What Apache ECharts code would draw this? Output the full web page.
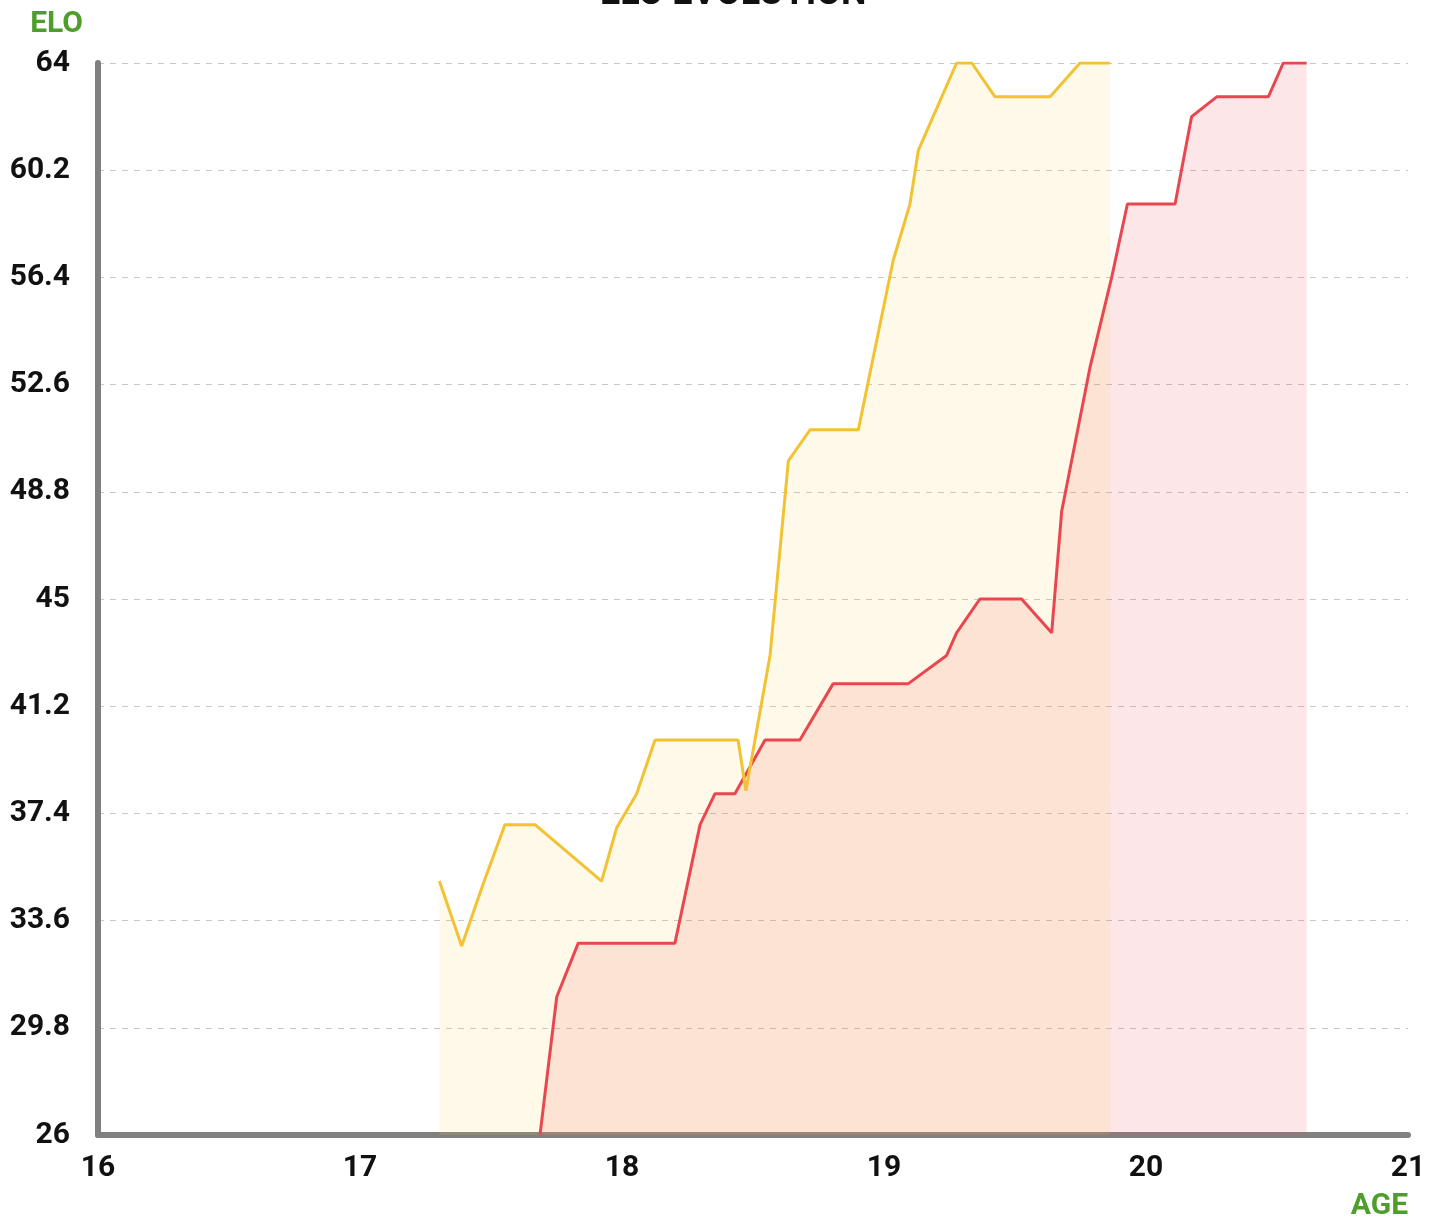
<!DOCTYPE html>
<html>
<head>
<meta charset="utf-8">
<script src="https://cdn.jsdelivr.net/npm/echarts@6/dist/echarts.min.js"></script>
<style>
html, body { margin: 0; padding: 0; background: #fff; }
#chart { width: 1443px; height: 1224px; }
</style>
</head>
<body>
<div id="chart"></div>
<script>
// age (x) / elo (y)
const yellowAge = [17.303, 17.388, 17.47, 17.553, 17.668, 17.922, 17.98, 18.056, 18.126, 18.443, 18.473, 18.565, 18.635, 18.718, 18.902, 19.035, 19.099, 19.131, 19.277, 19.335, 19.424, 19.634, 19.748, 19.863];
const yellowElo = [35.0, 32.7, 34.9, 37.0, 37.0, 35.0, 36.9, 38.1, 40.0, 40.0, 38.2, 43.0, 49.9, 51.0, 51.0, 57.0, 59.0, 60.9, 64.0, 64.0, 62.8, 62.8, 64.0, 64.0];

const redAge = [17.687, 17.751, 17.833, 18.202, 18.298, 18.355, 18.431, 18.546, 18.679, 18.806, 19.093, 19.239, 19.277, 19.366, 19.525, 19.64, 19.678, 19.786, 19.869, 19.929, 20.111, 20.174, 20.27, 20.467, 20.524, 20.613];
const redElo = [26.0, 30.9, 32.8, 32.8, 37.0, 38.1, 38.1, 40.0, 40.0, 42.0, 42.0, 43.0, 43.8, 45.0, 45.0, 43.8, 48.1, 53.2, 56.4, 59.0, 59.0, 62.1, 62.8, 62.8, 64.0, 64.0];

const xTicks = { min: 16, max: 21, step: 1 };
const yTicks = { min: 26, max: 64, step: 3.8 };

const toPairs = (xs, ys) => xs.map((x, i) => [x, ys[i]]);

const chart = echarts.init(document.getElementById('chart'));
const labelFont = { color: '#111', fontFamily: 'Roboto', fontWeight: 'bold', fontSize: 30 };

chart.setOption({
  backgroundColor: '#fff',
  animation: false,
  title: {
    text: 'ELO EVOLUTION',
    left: 595,
    top: -28,
    textStyle: { color: '#111', fontFamily: 'Roboto', fontWeight: 'bold', fontSize: 36 }
  },
  grid: { left: 98, right: 35, top: 63, bottom: 89, containLabel: false },
  xAxis: {
    type: 'value',
    min: xTicks.min,
    max: xTicks.max,
    interval: xTicks.step,
    name: 'AGE',
    nameLocation: 'end',
    nameGap: 0,
    nameTextStyle: {
      color: '#4f9e2c', fontFamily: 'Roboto', fontWeight: 'bold', fontSize: 30,
      align: 'right', verticalAlign: 'top', padding: [56, 0, 0, 0]
    },
    axisLine: { lineStyle: { color: '#808080', width: 6 } },
    axisTick: { show: false },
    splitLine: { show: false },
    axisLabel: Object.assign({ margin: 18 }, labelFont)
  },
  yAxis: {
    type: 'value',
    min: yTicks.min,
    max: yTicks.max,
    interval: yTicks.step,
    name: 'ELO',
    nameLocation: 'end',
    nameGap: 24,
    nameTextStyle: {
      color: '#4f9e2c', fontFamily: 'Roboto', fontWeight: 'bold', fontSize: 30,
      align: 'right', padding: [0, 15, 0, 0]
    },
    axisLine: { show: true, lineStyle: { color: '#808080', width: 6 } },
    axisTick: { show: false },
    splitLine: { lineStyle: { color: '#c8c8c8', type: [6, 6], width: 1 } },
    axisLabel: Object.assign({
      margin: 28,
      formatter: v => String(+v.toFixed(1))
    }, labelFont)
  },
  series: [
    {
      name: 'red',
      type: 'line',
      data: toPairs(redAge, redElo),
      showSymbol: false,
      lineStyle: { color: '#e8474f', width: 3 },
      itemStyle: { color: '#e8474f' },
      areaStyle: { color: 'rgba(240, 80, 90, 0.2)' }
    },
    {
      name: 'yellow',
      type: 'line',
      data: toPairs(yellowAge, yellowElo),
      showSymbol: false,
      lineStyle: { color: '#f2c232', width: 3 },
      itemStyle: { color: '#f2c232' },
      areaStyle: { color: 'rgba(245, 200, 60, 0.17)' }
    }
  ]
});
</script>
</body>
</html>
